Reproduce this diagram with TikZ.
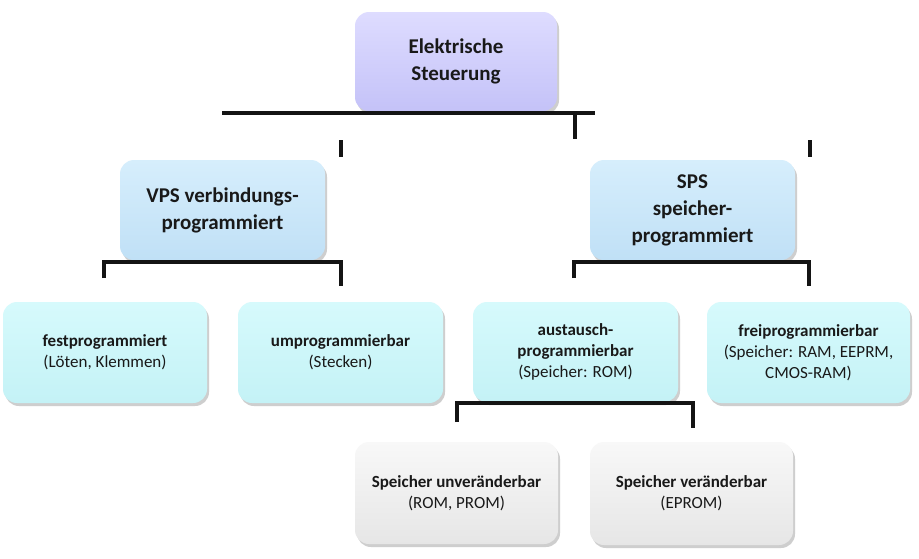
\documentclass[tikz,border=0pt]{standalone}
\usepackage{fontspec}
\setmainfont{Carlito}
\usetikzlibrary{shadows}
\definecolor{lavtop}{RGB}{222,220,255}
\definecolor{lavbot}{RGB}{196,194,248}
\definecolor{blutop}{RGB}{214,238,252}
\definecolor{blubot}{RGB}{192,224,246}
\definecolor{cyntop}{RGB}{214,250,252}
\definecolor{cynbot}{RGB}{196,242,246}
\definecolor{grytop}{RGB}{248,248,248}
\definecolor{grybot}{RGB}{230,230,230}
\definecolor{linecol}{RGB}{20,20,20}
\begin{document}
\begin{tikzpicture}[x=1pt,y=-1pt,
  box/.style={rounded corners=14pt, align=center, inner sep=0pt, text=black!90,
    drop shadow={shadow xshift=2pt,shadow yshift=-3pt,opacity=0.35,fill=black!55}},
  lavbox/.style={box, top color=lavtop, bottom color=lavbot},
  blubox/.style={box, top color=blutop, bottom color=blubot},
  cynbox/.style={box, top color=cyntop, bottom color=cynbot},
  grybox/.style={box, top color=grytop, bottom color=grybot},
  big/.style={font=\fontsize{21}{27}\selectfont\bfseries},
  small/.style={font=\fontsize{17}{21}\selectfont},
  conn/.style={draw=linecol, line width=3.2pt}]
\useasboundingbox[fill=white] (0,0) rectangle (919,558);

\node[lavbox, big, minimum width=202pt, minimum height=99pt] (top) at (456,61.5) {Elektrische\\Steuerung};
\node[blubox, big, minimum width=205pt, minimum height=100pt] (vps) at (222.5,210) {VPS verbindungs-\\programmiert};
\node[blubox, big, minimum width=205pt, minimum height=100pt] (sps) at (692.5,210) {SPS\\speicher-\\programmiert};
\node[cynbox, small, minimum width=204pt, minimum height=101pt] (fest) at (105,352.5) {\textbf{festprogrammiert}\\(Löten, Klemmen)};
\node[cynbox, small, minimum width=205pt, minimum height=101pt] (um) at (340.5,352.5) {\textbf{umprogrammierbar}\\(Stecken)};
\node[cynbox, small, minimum width=205pt, minimum height=100pt] (aus) at (575.5,352) {\textbf{austausch-}\\\textbf{programmierbar}\\(Speicher: ROM)};
\node[cynbox, small, minimum width=203pt, minimum height=101pt] (frei) at (808.5,352.5) {\textbf{freiprogrammierbar}\\(Speicher: RAM, EEPRM,\\CMOS-RAM)};
\node[grybox, small, minimum width=203pt, minimum height=102pt] (su) at (456.5,493) {\textbf{Speicher unveränderbar}\\(ROM, PROM)};
\node[grybox, small, minimum width=203pt, minimum height=103pt] (sv) at (691.5,493.5) {\textbf{Speicher veränderbar}\\(EPROM)};

% top bar
\coordinate (tl) at (222,113);
\coordinate (tr) at (595,113);
\coordinate (tv1) at (575,113);
\coordinate (tv2) at (575,139);
\coordinate (k1a) at (341,140);
\coordinate (k1b) at (341,157);
\coordinate (k2a) at (810,140);
\coordinate (k2b) at (810,157);
\draw[conn] (tl) -- (tr);
\draw[conn] (tv1) -- (tv2);
\draw[conn] (k1a) -- (k1b);
\draw[conn] (k2a) -- (k2b);

% VPS bracket
\coordinate (va) at (104,278);
\coordinate (vb) at (104,262);
\coordinate (vc) at (341,262);
\coordinate (vd) at (341,286);
\draw[conn] (va) -- (vb) -- (vc) -- (vd);

% SPS bracket
\coordinate (sa) at (574,278);
\coordinate (sb) at (574,262);
\coordinate (sc) at (809,262);
\coordinate (sd) at (809,286);
\draw[conn] (sa) -- (sb) -- (sc) -- (sd);

% austausch bracket
\coordinate (aa) at (457,422);
\coordinate (ab) at (457,403);
\coordinate (ac) at (693,403);
\coordinate (ad) at (693,428);
\draw[conn] (aa) -- (ab) -- (ac) -- (ad);
\end{tikzpicture}
\end{document}
